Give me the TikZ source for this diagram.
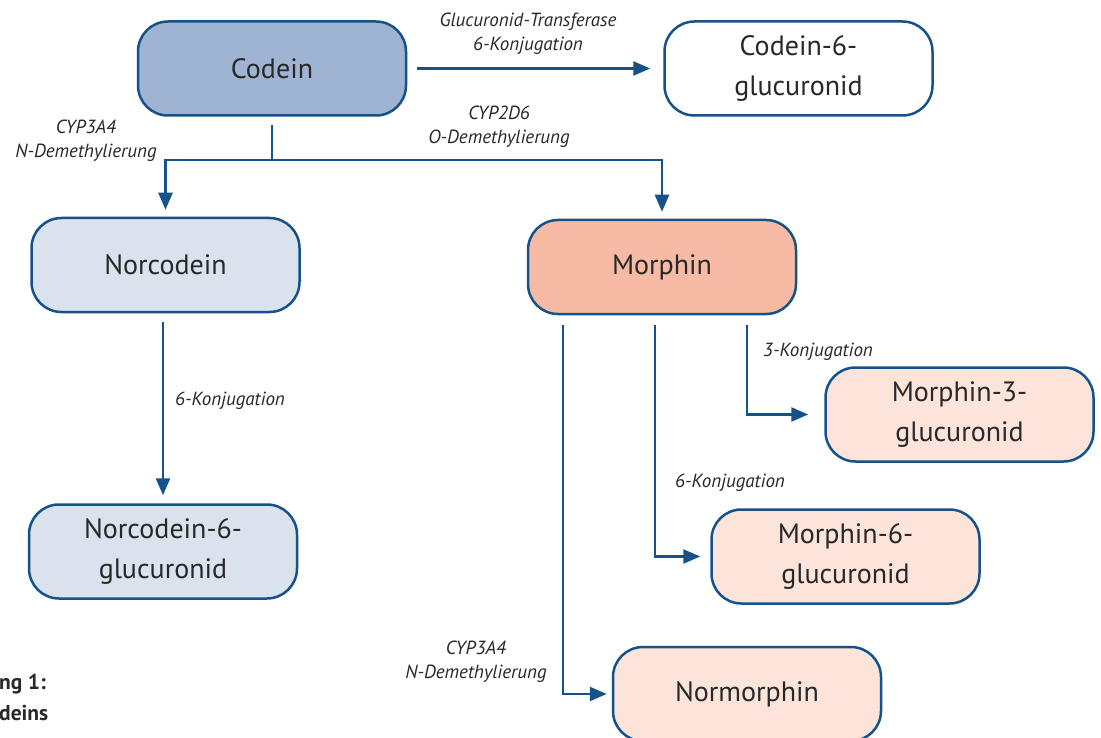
\documentclass[tikz,border=0pt]{standalone}
\usepackage{fontspec}
\setmainfont{PT Sans}
\usetikzlibrary{arrows.meta,calc}
\definecolor{edge}{RGB}{22,82,138}
\definecolor{codeinfill}{RGB}{158,180,210}
\definecolor{norfill}{RGB}{217,226,237}
\definecolor{morfill}{RGB}{247,187,165}
\definecolor{pinkfill}{RGB}{252,228,218}
\definecolor{txt}{RGB}{40,40,40}
\begin{document}
\begin{tikzpicture}[x=1pt,y=-1pt,
  box/.style={draw=edge, line width=2.5pt, rounded corners=30pt, minimum width=268pt, minimum height=94pt, align=center, font=\fontsize{28}{40}\selectfont, text=txt, inner sep=0pt},
  lbl/.style={font=\itshape\fontsize{19}{24}\selectfont, text=txt, align=center, inner sep=0pt},
  arr/.style={draw=edge, line width=2.5pt, line join=miter, -{Triangle[length=17pt,width=14pt]}},
  ln/.style={draw=edge, line width=2.5pt},
  captxt/.style={font=\bfseries\fontsize{21.5}{29}\selectfont, text=txt, inner sep=0pt, anchor=west}]
\useasboundingbox (0,0) rectangle (1101,738);
\fill[white] (0,0) rectangle (1101,738);

\node[box, fill=codeinfill] (codein) at (272,68.5) {Codein};
\node[box, fill=white] (c6g) at (798.5,68.5) {Codein-6-\\glucuronid};
\node[box, fill=norfill] (norcodein) at (165.5,265) {Norcodein};
\node[box, fill=morfill] (morphin) at (662,267) {Morphin};
\node[box, fill=pinkfill] (m3g) at (959.5,414.5) {Morphin-3-\\glucuronid};
\node[box, fill=pinkfill] (m6g) at (845.5,556.5) {Morphin-6-\\glucuronid};
\node[box, fill=norfill] (n6g) at (163,551.5) {Norcodein-6-\\glucuronid};
\node[box, fill=pinkfill] (normorphin) at (747,694) {Normorphin};

% Codein -> Codein-6-glucuronid
\draw[arr, shorten <=10pt, shorten >=13pt] (codein.east) -- (c6g.west);

% Codein split
\coordinate (split) at (272,160);
\draw[ln, shorten <=8pt] (codein.south) -- (split);
\draw[arr, shorten >=7pt] (split) -| (norcodein.north);
\draw[arr, shorten >=7pt] (split) -| (morphin.north);

% Norcodein -> Norcodein-6-glucuronid
\draw[arr, shorten <=9pt, shorten >=8pt] (norcodein.south -| n6g.north) -- (n6g.north);

% Morphin branches
\coordinate (mA) at ($(morphin.south west)+(36,0)$);
\coordinate (mB) at ($(morphin.south west)+(128,0)$);
\coordinate (mC) at ($(morphin.south west)+(220,0)$);
\draw[arr, shorten <=10pt, shorten >=5pt] (mA) |- (normorphin.west);
\draw[arr, shorten <=10pt, shorten >=10pt] (mB) |- (m6g.west);
\draw[arr, shorten <=10pt, shorten >=16pt] (mC) |- (m3g.west);

% Labels
\node[lbl] (l1) at (528,34) {Glucuronid-Transferase\\6-Konjugation};
\node[lbl] (l2) at (499,127) {CYP2D6\\O-Demethylierung};
\node[lbl] (l3) at (86,141) {CYP3A4\\N-Demethylierung};
\node[lbl] (l4) at (230,401) {6-Konjugation};
\node[lbl] (l5) at (818,352) {3-Konjugation};
\node[lbl] (l6) at (730,483) {6-Konjugation};
\node[lbl] (l7) at (476,662) {CYP3A4\\N-Demethylierung};

% Caption fragment
\node[captxt] (c1) at (-1,684) {ng 1:};
\node[captxt] (c2) at (-1,713) {deins};
\end{tikzpicture}
\end{document}
